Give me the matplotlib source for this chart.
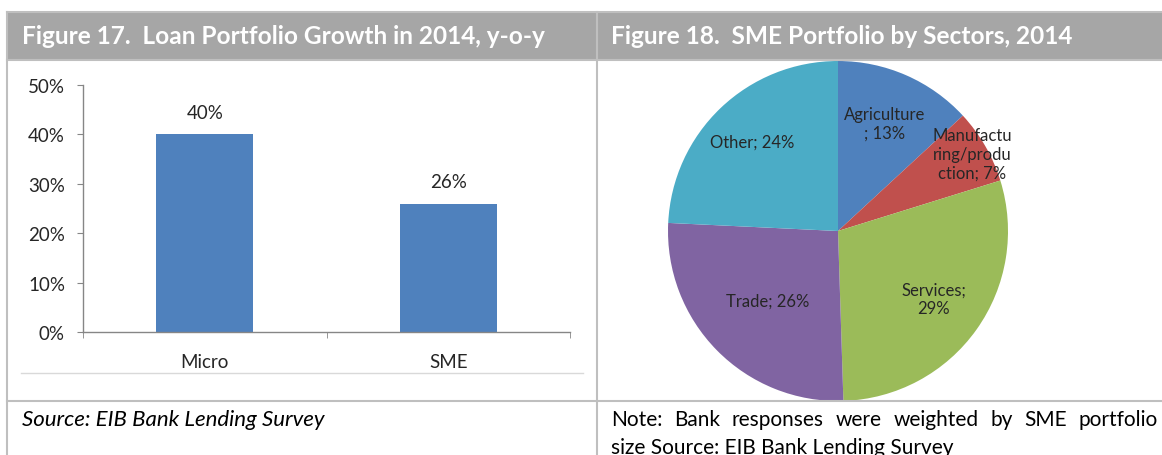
import matplotlib
matplotlib.use("Agg")
import matplotlib.pyplot as plt
from matplotlib.lines import Line2D
from matplotlib.patches import Rectangle
import numpy as np

# ---- data ----
loan_categories = ["Micro", "SME"]
loan_growth = [0.40, 0.26]
y_ticks = [0.0, 0.1, 0.2, 0.3, 0.4, 0.5]

sectors = ["Agriculture", "Manufacturing/production", "Services", "Trade", "Other"]
sector_shares = [13, 7, 29, 26, 24]
sector_labels = ["Agriculture\n; 13%", "Manufactu\nring/produ\nction; 7%",
                 "Services;\n29%", "Trade; 26%", "Other; 24%"]

title_left = "Figure 17.  Loan Portfolio Growth in 2014, y-o-y"
title_right = "Figure 18.  SME Portfolio by Sectors, 2014"
source_left = "Source: EIB Bank Lending Survey"
note_right = ["Note: Bank responses were weighted by SME portfolio",
              "size Source: EIB Bank Lending Survey"]

# ---- style ----
W, H = 1162, 456
FONT = "Lato"
TEXT = "#262626"
HEADER_FILL = "#A6A6A6"
BORDER = "#BFBFBF"
BAR_COLOR = "#4F81BD"
PIE_COLORS = ["#4F81BD", "#C0504D", "#9BBB59", "#8064A2", "#4BACC6"]
label_radius = [0.69, 0.91, 0.69, 0.58, 0.73]

plt.rcParams["font.family"] = [FONT, "DejaVu Sans"]

fig = plt.figure(figsize=(W / 100, H / 100), dpi=100)


def fx(x):
    return x / W


def fy(y):
    return 1 - y / H


def hline(y, x0, x1, color=BORDER, lw=1.5):
    fig.add_artist(Line2D([fx(x0), fx(x1)], [fy(y), fy(y)], color=color, lw=lw))


def vline(x, y0, y1, color=BORDER, lw=1.5):
    fig.add_artist(Line2D([fx(x), fx(x)], [fy(y0), fy(y1)], color=color, lw=lw))


# header band
fig.add_artist(Rectangle((fx(7), fy(61)), fx(1162 - 7), (61 - 13) / H,
                         facecolor=HEADER_FILL, edgecolor="none"))
hline(13, 7, 1162)
hline(61, 7, 1162)
hline(402, 7, 1162)
vline(7, 13, 456)
vline(597, 13, 456)
hline(374, 21, 583, color="#D9D9D9", lw=1)

fig.text(fx(22), fy(37), title_left, color="white", fontsize=17.6,
         fontweight="bold", va="center", ha="left")
fig.text(fx(611), fy(37), title_right, color="white", fontsize=17.6,
         fontweight="bold", va="center", ha="left")

# ---- bar chart ----
ax = fig.add_axes([fx(83), fy(333), (570 - 83) / W, (333 - 86) / H])
x = np.arange(len(loan_categories))
bars = ax.bar(x, loan_growth, width=0.4, color=BAR_COLOR)
ax.set_xlim(-0.5, len(loan_categories) - 0.5)
ax.set_ylim(0, 0.5)
ax.set_yticks(y_ticks)
ax.set_yticklabels([f"{v:.0%}" for v in y_ticks])
ax.set_xticks(x)
ax.set_xticklabels(loan_categories)
ax.set_xticks(np.arange(-0.5, len(loan_categories)), minor=True)
for side in ["top", "right"]:
    ax.spines[side].set_visible(False)
for side in ["left", "bottom"]:
    ax.spines[side].set_color("#868686")
    ax.spines[side].set_linewidth(1)
ax.tick_params(axis="y", length=4, color="#868686", pad=9, labelsize=13.5,
               labelcolor=TEXT)
ax.tick_params(axis="x", which="major", length=0, pad=15, labelsize=13.5,
               labelcolor=TEXT)
ax.tick_params(axis="x", which="minor", length=4, color="#868686")
for b, v in zip(bars, loan_growth):
    ax.annotate(f"{v:.0%}", (b.get_x() + b.get_width() / 2, v),
                xytext=(0, 16), textcoords="offset points",
                ha="center", va="center", fontsize=13.5, color=TEXT)

# ---- pie chart ----
pax = fig.add_axes([fx(668), fy(402), 340 / W, 340 / H])
wedges, _ = pax.pie(sector_shares, colors=PIE_COLORS, startangle=90,
                    counterclock=False, wedgeprops=dict(linewidth=0))
pax.set_xlim(-1, 1)
pax.set_ylim(-1, 1)
pax.set_aspect("auto")
for w, lab, r in zip(wedges, sector_labels, label_radius):
    ang = np.deg2rad((w.theta1 + w.theta2) / 2)
    pax.text(r * np.cos(ang), r * np.sin(ang), lab, ha="center", va="center",
             fontsize=12, color=TEXT, linespacing=1.2, multialignment="center")

# ---- footers ----
fig.text(fx(22), fy(420), source_left, fontsize=16, style="italic",
         color="black", va="center", ha="left")

# justified note, first line spans the cell
renderer = fig.canvas.get_renderer()
words = note_right[0].split(" ")
x0, x1 = 611, 1158
widths = []
for wd in words:
    t = fig.text(0, 0, wd, fontsize=15)
    widths.append(t.get_window_extent(renderer).width)
    t.remove()
gap = (x1 - x0 - sum(widths)) / (len(words) - 1)
xpos = x0
for wd, wdt in zip(words, widths):
    fig.text(fx(xpos), fy(420), wd, fontsize=15, color="black",
             va="center", ha="left")
    xpos += wdt + gap
fig.text(fx(x0), fy(448), note_right[1], fontsize=15, color="black",
         va="center", ha="left")

fig.savefig("out.png", dpi=100)
